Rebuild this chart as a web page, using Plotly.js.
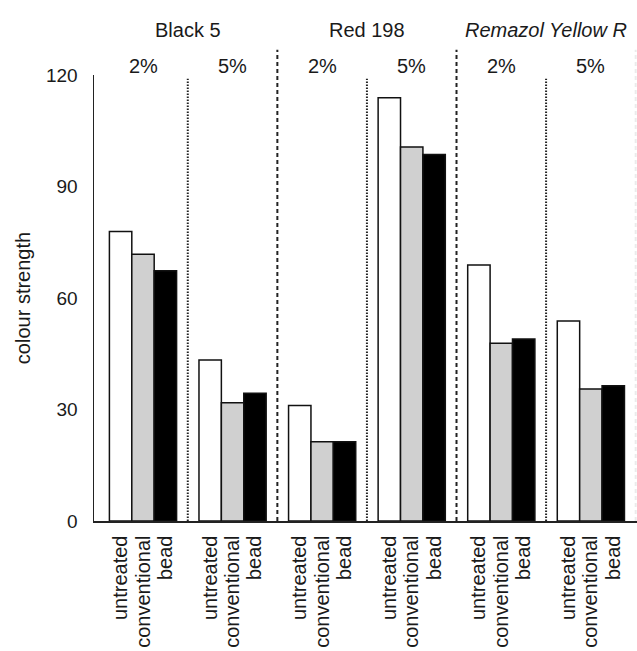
<!DOCTYPE html>
<html>
<head>
<meta charset="utf-8">
<script src="https://cdn.plot.ly/plotly-3.0.1.min.js"></script>
<style>html,body{margin:0;padding:0;background:#fff;}#chart{width:637px;height:651px;}</style>
</head>
<body>
<div id="chart"></div>
<script>
// ---- data ----
var groups = ["Black 5 2%", "Black 5 5%", "Red 198 2%", "Red 198 5%", "Remazol Yellow R 2%", "Remazol Yellow R 5%"];
var concLabels = ["2%", "5%", "2%", "5%", "2%", "5%"];
var dyes = ["Black 5", "Red 198", "Remazol Yellow R"];
var treatments = ["untreated", "conventional", "bead"];
var untreated    = [77.9, 43.3, 31.1, 113.9, 68.9, 53.8];
var conventional = [71.8, 31.8, 21.3, 100.6, 47.8, 35.5];
var bead         = [67.3, 34.4, 21.3, 98.6, 49.0, 36.4];
var yTicks = [0, 30, 60, 90, 120];

var series = [untreated, conventional, bead];
var fills = ["#ffffff", "#d0d0d0", "#000000"];
var gIdx = groups.map(function(_, i){ return i; });

var FONT = "Liberation Sans, Arial, sans-serif";
var TXT = "#1a1a1a";

var traces = series.map(function(vals, j){
  return {
    type: "bar", name: treatments[j], x: gIdx, y: vals,
    marker: {color: fills[j], line: {color: "#111", width: 1.5}},
    hoverinfo: "skip"
  };
});

// tick labels below each bar (bar centres inside a group)
var tickVals = [], tickText = [];
gIdx.forEach(function(g){
  treatments.forEach(function(t, j){
    tickVals.push(g + (j - 1) * 0.25);
    tickText.push(t);
  });
});

var shapes = [];
// separators between concentrations (dotted) and between dyes (dashed)
for (var s = 0; s < groups.length; s++) {
  var xb = s + 0.5;
  var betweenDyes = (s % 2 === 1);
  shapes.push({
    type: "line", xref: "x", yref: "paper", x0: xb, x1: xb,
    y0: 0, y1: betweenDyes ? 1.0565 : 0.9915,
    line: {color: s === groups.length - 1 ? "rgba(0,0,0,0.08)" : "#222",
           width: betweenDyes ? 2 : 2,
           dash: betweenDyes ? "4px,3px" : "1.5px,1.5px"},
    layer: "above"
  });
}

var annotations = [];
dyes.forEach(function(d, k){
  annotations.push({
    text: d, xref: "x", yref: "paper", x: 2 * k + 0.5, y: 1.101,
    showarrow: false, xanchor: "center", yanchor: "middle",
    font: {family: FONT, size: 20, color: TXT, style: k === 2 ? "italic" : "normal"}
  });
});
concLabels.forEach(function(c, g){
  annotations.push({
    text: c, xref: "x", yref: "paper", x: g, y: 1.0195,
    showarrow: false, xanchor: "center", yanchor: "middle",
    font: {family: FONT, size: 20, color: TXT}
  });
});

var layout = {
  width: 637, height: 651,
  margin: {l: 94, r: 0, t: 75, b: 130, pad: 0},
  paper_bgcolor: "#fff", plot_bgcolor: "#fff",
  barmode: "group", bargap: 0.25, bargroupgap: 0,
  showlegend: false,
  font: {family: FONT, color: TXT},
  xaxis: {
    range: [-0.547, 5.515], showgrid: false, zeroline: false,
    showline: true, linecolor: "#222", linewidth: 1.5,
    tickmode: "array", tickvals: tickVals, ticktext: tickText,
    tickangle: -90, ticks: "", ticklabelstandoff: 5,
    tickfont: {family: FONT, size: 20, color: TXT}
  },
  yaxis: {
    range: [0, 120], showgrid: false, zeroline: false,
    showline: true, linecolor: "#222", linewidth: 1.5,
    tickmode: "array", tickvals: yTicks, ticks: "", ticklabelstandoff: 11,
    tickfont: {family: FONT, size: 19, color: TXT},
    title: {text: "colour strength", font: {family: FONT, size: 20, color: TXT}, standoff: 10}
  },
  shapes: shapes,
  annotations: annotations
};

Plotly.newPlot("chart", traces, layout, {staticPlot: true, displayModeBar: false});
</script>
</body>
</html>
